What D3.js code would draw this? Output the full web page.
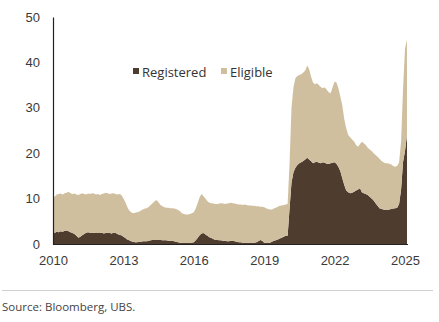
<!DOCTYPE html>
<html>
<head>
<meta charset="utf-8">
<script src="https://cdn.jsdelivr.net/npm/d3@7"></script>
<style>
  html, body { margin: 0; padding: 0; background: #fff; }
  svg { display: block; font-family: "Open Sans", "DejaVu Sans", sans-serif; }
</style>
</head>
<body>
<svg id="chart" width="439" height="322"></svg>
<script>
// Monthly stocks (Moz), January 2010 to February 2025
const startMonth = new Date(2010, 0, 1);

const registered = [
  2.6, 2.5, 2.7, 2.6, 2.8, 2.7, 2.9, 3.0, 2.8, 2.6, 2.4, 2.2,   // 2010
  1.8, 1.4, 1.6, 1.9, 2.2, 2.5, 2.6, 2.5, 2.4, 2.5, 2.4, 2.4,   // 2011
  2.4, 2.5, 2.3, 2.4, 2.5, 2.4, 2.3, 2.5, 2.4, 2.2, 2.0, 1.9,   // 2012
  1.6, 1.3, 1.0, 0.8, 0.6, 0.5, 0.4, 0.4, 0.5, 0.5, 0.6, 0.6,   // 2013
  0.6, 0.7, 0.8, 0.9, 0.9, 1.0, 0.9, 0.9, 0.8, 0.8, 0.8, 0.7,   // 2014
  0.7, 0.7, 0.6, 0.5, 0.4, 0.3, 0.2, 0.2, 0.2, 0.2, 0.2, 0.3,   // 2015
  0.4, 0.8, 1.3, 1.9, 2.3, 2.4, 2.1, 1.8, 1.5, 1.3, 1.1, 0.9,   // 2016
  0.9, 0.8, 0.8, 0.7, 0.7, 0.6, 0.6, 0.7, 0.7, 0.6, 0.5, 0.4,   // 2017
  0.4, 0.3, 0.3, 0.3, 0.3, 0.3, 0.3, 0.3, 0.4, 0.6, 0.9, 0.7,   // 2018
  0.3, 0.2, 0.2, 0.3, 0.5, 0.7, 0.8, 1.0, 1.2, 1.4, 1.6, 1.8,   // 2019
  1.8, 8.0, 13.5, 15.8, 16.8, 17.4, 17.8, 18.0, 18.3, 18.6, 19.0, 18.6, // 2020
  18.2, 17.8, 18.0, 18.1, 17.9, 17.8, 18.0, 17.9, 17.7, 17.6, 17.8, 17.9, // 2021
  18.0, 17.6, 17.0, 16.0, 14.5, 13.0, 11.8, 11.4, 11.2, 11.3, 11.5, 11.8, // 2022
  12.0, 12.3, 11.4, 11.2, 11.0, 10.8, 10.4, 10.0, 9.6, 9.0, 8.4, 7.9,     // 2023
  7.7, 7.6, 7.5, 7.5, 7.6, 7.7, 7.8, 7.9, 8.0, 8.8, 12.0, 18.0,           // 2024
  20.5, 24.0                                                               // 2025
];

const eligible = [
  7.5, 8.0, 8.2, 8.4, 8.3, 8.2, 8.3, 8.3, 8.7, 8.6, 8.6, 8.9,   // 2010
  9.1, 9.4, 9.4, 9.3, 8.8, 8.4, 8.5, 8.5, 8.8, 8.6, 8.5, 8.6,   // 2011
  8.4, 8.5, 8.8, 8.9, 8.7, 8.6, 8.8, 8.7, 8.6, 8.7, 9.0, 8.9,   // 2012
  8.4, 7.9, 7.2, 6.6, 6.4, 6.3, 6.5, 6.6, 6.6, 6.9, 7.0, 7.2,   // 2013
  7.3, 7.5, 7.8, 8.1, 8.5, 8.7, 8.3, 7.7, 7.5, 7.3, 7.2, 7.3,   // 2014
  7.2, 7.2, 7.2, 7.2, 7.1, 6.9, 6.6, 6.4, 6.3, 6.3, 6.4, 6.5,   // 2015
  6.6, 7.0, 7.7, 8.4, 8.7, 8.1, 7.9, 7.6, 7.6, 7.7, 7.8, 7.9,   // 2016
  7.9, 8.1, 8.2, 8.2, 8.1, 8.3, 8.4, 8.4, 8.3, 8.3, 8.3, 8.3,   // 2017
  8.3, 8.3, 8.4, 8.3, 8.2, 8.2, 8.1, 8.1, 7.9, 7.7, 7.3, 7.5,   // 2018
  7.8, 7.7, 7.5, 7.3, 7.1, 7.1, 7.2, 7.2, 7.2, 7.1, 7.0, 6.9,   // 2019
  7.0, 10.0, 16.5, 18.7, 19.7, 19.6, 19.4, 19.4, 19.5, 19.6, 20.3, 19.9, // 2020
  18.6, 17.7, 17.2, 17.3, 17.1, 16.8, 16.3, 16.6, 16.3, 15.8, 15.4, 16.6, // 2021
  17.8, 17.9, 17.3, 16.5, 16.0, 14.5, 13.7, 12.6, 12.3, 11.7, 11.1, 10.0, // 2022
  9.4, 9.7, 11.1, 11.0, 10.8, 10.4, 10.4, 10.5, 10.4, 10.6, 10.8, 10.9,   // 2023
  10.6, 10.4, 10.3, 10.3, 10.1, 9.8, 9.4, 9.1, 9.2, 9.2, 10.5, 16.0,      // 2024
  22.5, 21.0                                                               // 2025
];

const seriesNames = ["Registered", "Eligible"];
const seriesColors = ["#4e3c2f", "#d0bf9f"];
const yTicks = [0, 10, 20, 30, 40, 50];
const xTickYears = [2010, 2013, 2016, 2019, 2022, 2025];
const sourceNote = "Source: Bloomberg, UBS.";

const rows = registered.map((r, i) => ({
  date: d3.timeMonth.offset(startMonth, i),
  Registered: r,
  Eligible: eligible[i]
}));

const svg = d3.select("#chart");
const margin = { left: 53, right: 31, top: 17, bottom: 78 };
const W = 439, H = 322;

const x = d3.scaleTime()
  .domain([new Date(2010, 0, 1), new Date(2025, 0, 1)])
  .range([margin.left, 405]);
const y = d3.scaleLinear()
  .domain([0, 50])
  .range([H - margin.bottom, margin.top]);

const stack = d3.stack().keys(seriesNames);
const layers = stack(rows);

const area = d3.area()
  .x(d => x(d.data.date))
  .y0(d => y(d[0]))
  .y1(d => y(d[1]))
  .curve(d3.curveLinear);

svg.append("g")
  .selectAll("path")
  .data(layers)
  .join("path")
  .attr("d", area)
  .attr("fill", (d, i) => seriesColors[i]);

// Y axis: line plus labels, no tick marks
const yAxis = svg.append("g")
  .attr("transform", `translate(${margin.left},0)`)
  .call(d3.axisLeft(y).tickValues(yTicks).tickSize(0).tickPadding(13));
yAxis.select(".domain").attr("stroke", "#222").attr("stroke-width", 1.2);
yAxis.selectAll("text").attr("fill", "#3a3a3a").attr("font-size", 13);

// X axis
const lastX = x(rows[rows.length - 1].date) + 1;
const xAxis = svg.append("g")
  .attr("transform", `translate(0,${y(0)})`)
  .call(d3.axisBottom(x)
    .tickValues(xTickYears.map(yr => new Date(yr, 0, 1)))
    .tickFormat(d3.timeFormat("%Y"))
    .tickSize(0)
    .tickPadding(12));
xAxis.select(".domain").remove();
xAxis.append("line")
  .attr("x1", margin.left).attr("x2", lastX)
  .attr("y1", 0.5).attr("y2", 0.5)
  .attr("stroke", "#222").attr("stroke-width", 1.2);
xAxis.selectAll("text").attr("fill", "#3a3a3a").attr("font-size", 13);

// Legend
const legend = svg.append("g").attr("font-size", 13).attr("fill", "#333");
const legendItems = [
  { name: seriesNames[0], color: seriesColors[0], x: 133 },
  { name: seriesNames[1], color: seriesColors[1], x: 221 }
];
legendItems.forEach(it => {
  legend.append("rect")
    .attr("x", it.x).attr("y", 68)
    .attr("width", 6).attr("height", 6)
    .attr("fill", it.color);
  legend.append("text")
    .attr("x", it.x + 9).attr("y", 76.5)
    .text(it.name);
});

// Footer rule and source
svg.append("line")
  .attr("x1", 2).attr("x2", 433)
  .attr("y1", 290.5).attr("y2", 290.5)
  .attr("stroke", "#d0d0d0").attr("stroke-width", 1);
svg.append("text")
  .attr("x", 2).attr("y", 311)
  .attr("font-size", 11.5)
  .attr("fill", "#444")
  .text(sourceNote);
</script>
</body>
</html>
